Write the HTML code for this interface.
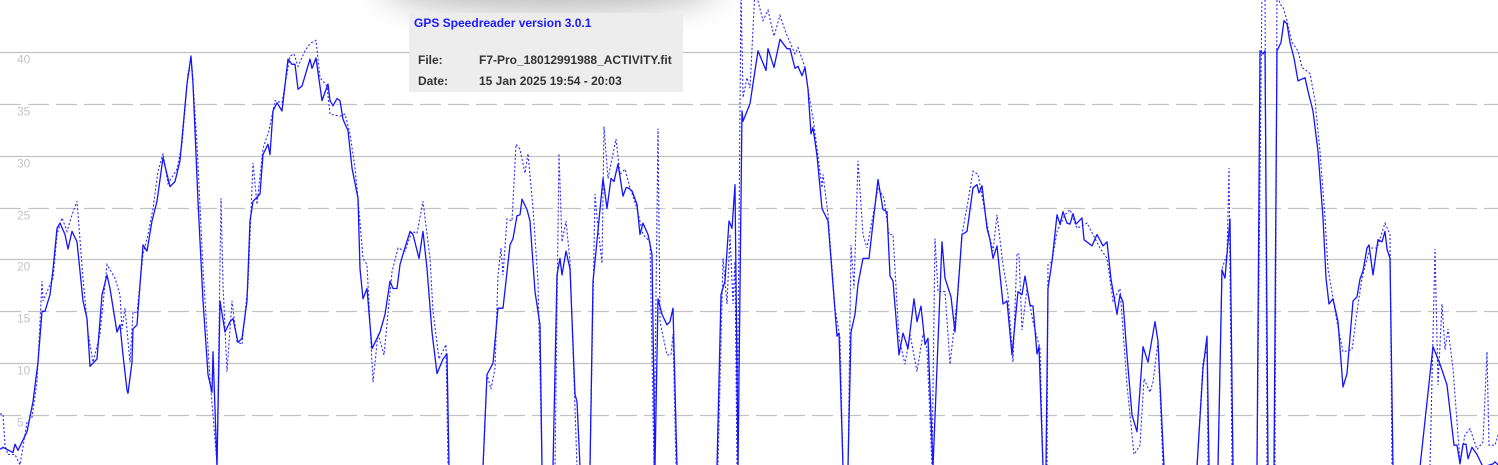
<!DOCTYPE html>
<html><head><meta charset="utf-8">
<style>
html,body{margin:0;padding:0;background:#fff;}
#wrap{position:relative;width:1498px;height:465px;overflow:hidden;background:#fff;font-family:"Liberation Sans",Arial,sans-serif;}
#shadow{position:absolute;left:380px;top:-40px;width:340px;height:52px;background:#bdbdbd;filter:blur(16px);border-radius:50%;}
#info{position:absolute;left:409px;top:13px;width:274px;height:79px;background:#ededed;font-size:12px;font-weight:bold;color:#333;}
#info .t{position:absolute;left:5px;top:3px;color:#1a1aff;}
#info .l{position:absolute;left:9px;}
#info .v{position:absolute;left:70px;}
</style></head>
<body>
<div id="wrap">
<svg id="chart" width="1498" height="465" style="position:absolute;left:0;top:0"></svg>
<div id="shadow"></div>
<div id="info">
  <div class="t">GPS Speedreader version 3.0.1</div>
  <div class="l" style="top:40px">File:</div>
  <div class="v" style="top:40px">F7-Pro_18012991988_ACTIVITY.fit</div>
  <div class="l" style="top:61px">Date:</div>
  <div class="v" style="top:61px">15 Jan 2025 19:54 - 20:03</div>
</div>
</div>
<script>
const yTicks=[5,10,15,20,25,30,35,40];
const tickLabels=["5","10","15","20","25","30","35","40"];
const solidTimes=[0,1.5,3.5,6.5,7.5,9,13.5,16.5,19,21,22.5,25,26.5,28.5,30,32.5,34,36,38.5,41.5,43.5,45,48.5,51,53.5,55,58.5,60,61.5,63.5,64,66,66.5,68.5,71.5,73.5,76,78.5,81.5,85,87.5,90,93.5,95.5,96.5,99,101.5,104,106,106.5,108.5,110,112.5,115,116.5,119,121,123.5,125,126.5,130,131.5,134,135,136.5,138.5,141,144,146,147.5,149,151,155,156,158,161,164,165,166.5,168.5,170,171.5,174,176,179,180,181.5,183.5,186,190,192.5,195,196.5,198.5,200,201.5,205,206.5,209.5,211.5,213.5,216,218.5,221.5,223.5,224.5,241.5,243.5,246.5,249,251.5,255,256.5,258.5,260,261,263.5,265,267.5,270,271,276.5,278.5,280,281,283,285,287.5,288.5,290,295,296.5,297.5,301.5,303.5,305.5,307,309,311.5,313,314,316,318.5,320,321.5,324,326,327.5,329,331,333.5,335,336.5,338.5,358.5,360.5,362.5,364.5,366,367.5,369,371,371.5,375,377.5,379,383,384,387,390,393.5,395,397.5,399,401,402.5,404,405.5,406.5,408.5,411,414,418.5,419.5,421.5,424,425.5,427.5,429,431.5,434.5,439,441.5,443.5,445,446.5,449.5,451.5,454,457,458.5,460.5,462.5,464,466.5,471,472.5,475.5,477.5,481,483.5,486.5,488.5,489.5,491,493.5,495,496.5,498.5,501.5,503.5,506,509,511,512.5,515,516.5,518.5,519.5,521.5,523,524,526,528.5,530,531.5,533.5,535,536.5,538,541,542,546,548.5,551.5,553.5,555.5,558.5,560,561.5,563.5,566,568.5,571.5,574,577.5,579,582,598.5,601.5,603.5,604.5,609,611,612.5,615,616.5,628.5,630,631.5,632.5,634,637,638.5,640.5,642,643.5,645,647,649,652.5,654,656.5,659,661.5,663,664.5,666.5,669,671.5,673.5,676.5,678.5,680,681.5,683.5,684.5,686.5,689,691,692.5,693.5,695,696.5,710,716.5,720,723.5,727,728.5,730,731.5,733,734,736,738.5,741.5,746.5,747.5,749];
const solidSpeeds=[1.7,1.9,1.7,1.4,2.2,1.6,3.4,6.3,10.1,15,15,16.6,19,23,23.5,22.4,21,22.7,21.7,16,14.3,9.7,10.4,16.6,18.5,17.2,13,13.7,10.8,7.4,7.1,10.1,13.3,13.7,21.4,20.8,23.7,25.6,29.8,27,27.5,29.5,36.9,39.6,36.9,25.6,16,8.9,7.2,11.1,0,16,13,14,14.3,12,12.4,16,23.7,25.6,26.3,30.1,31.1,30.1,34.3,35.1,34.3,39.3,38.8,38.8,36.4,36.7,39.3,38.4,39.4,35.3,36.9,35.3,34.8,35.5,35.3,33.5,32.4,28.8,25.9,19.1,16.2,17.2,11.4,13,14.7,17.9,17.2,17.2,19.5,20.5,22.7,22.4,20.1,22.7,19.1,13,9,10.4,10.9,0,0,8.9,10,15.3,15.3,21.4,22,24.2,24.3,25.8,24.8,23.7,16.9,13.7,0,0,18.5,20.1,18.5,20.8,19.1,7,6.3,0,0,17.9,19.8,27.8,24.9,27.8,27.5,29.2,26.1,26.9,26.9,26.6,25.3,22.4,23.5,22.4,20.5,0,16.2,14.7,13.7,14,15.3,0,0,16.6,17.9,23.7,23,27.2,0,34.3,33.3,35,38.2,40.1,38.2,40.3,38.5,41.2,40.3,40.3,38.4,38.6,37.7,38.5,36.4,32.1,32.7,30,24.9,23.7,12.6,12.9,0,0,13,14.7,17.6,20.1,20.1,27.7,24.8,24.6,18.4,17.9,10.8,12.9,11.4,16.2,14,15.5,11.8,12.4,0,21.7,18.2,16.4,13,22.4,22.7,26.9,27.2,26.4,27.1,23,21.9,20.1,21.3,15.7,16,10.8,16.9,16.6,18.4,15.6,15.5,10.9,11.6,0,0,17.2,19.8,24.3,23.4,24.6,23.5,23.4,24.4,23.4,24,21.9,21.3,22.4,21.3,21.7,18.1,14.7,16.6,15.9,10.8,5,3.4,11.6,10.1,14,12.1,0,0,9.5,12.6,0,0,19,18.2,23.9,0,0,40.1,39.8,40.1,0,0,40.1,40.9,43,42.7,40.9,39.4,37.2,37.5,36.2,34.3,30.4,24,18.2,15.7,16.2,14,7.7,9,16,16.4,18.1,18.9,21.1,21.4,18.5,21.9,21.7,22.7,21,20.1,0,0,11.6,9.9,7.9,2.1,2.1,0.3,2.2,2.2,0.8,1.9,1.2,0,0.3,0.5,0.2];
const dottedTimes=[0,1.5,2.5,4,7.5,10,13.5,16,18.5,21,21.5,26.5,28.5,31,33.5,36,38.5,41.5,44,46.5,50,53.5,57.5,60,61,62.5,65,66.5,68.5,71.5,74,76.5,79,81.5,84,88.5,91,94,96,98.5,101.5,105,108.5,110.5,111.5,113.5,116,118.5,121,124,126.5,128.5,131.5,134.5,137.5,141,145,147,149,152.5,155,158,160,163.5,165,170,172.5,175,177.5,179,181.5,183.5,186.5,189,192,196,199,202.5,206,208.5,211.5,215,216.5,219.5,223,224,241.5,243.5,245.5,247.5,249,250.5,251.5,253.5,256,258,260,262.5,264,266.5,269,271,277.5,279.5,281,283,285,288.5,295,297.5,298.5,301,302,304,308,310,312.5,315,318.5,321.5,325,327,329,330,333.5,335.5,336.5,338,359,361,361.5,363.5,365,366.5,367.5,368.5,370.5,371.5,373.5,375,377.5,381.5,384,387,390,393,397.5,399,402.5,404,406.5,408.5,411,411.5,414,417.5,420,421.5,424,425.5,427,429,431.5,433.5,439,442,444.5,446.5,449.5,452.5,455,458.5,461.5,463.5,466,467.5,469,472.5,475,478.5,481,484,486.5,489,491.5,494.5,496.5,498.5,501.5,504,506.5,508.5,509.5,511,513.5,516.5,520,521.5,523.5,524,526,528.5,532.5,535,538.5,543.5,546.5,550,553.5,556.5,560,563.5,567,570,572,575,576.5,579,581.5,598.5,601.5,603.5,604,609,611,613.5,614.5,616,628.5,631,632.5,633.5,637.5,638.5,640,641.5,643.5,646,649,651,655,657.5,660,662.5,664,668.5,671.5,676,678.5,681,685,688.5,692.5,695,696,715,717.5,719,721,722.5,724,726.5,730,732.5,735,738.5,741.5,743.5,744.5,747.5,749];
const dottedSpeeds=[5.1,5.1,2.1,1.2,1.2,0.2,4.3,4.8,8.2,17.9,16,18.2,22.4,24,22.7,24.3,25.6,18.2,13,10.1,12.8,19.5,18.2,16.6,13.3,15.3,10.1,15,14.8,20.5,22.4,24.9,28.5,30.2,27.3,28.7,31.1,38,38.5,31.1,19.1,8.5,0.3,25.9,17.6,9.2,16,12.1,11.8,17.6,29.3,25.3,30.7,32.4,35.3,35.1,39.6,39.8,38.6,40.1,40.8,41.1,37.5,36.7,34,33.8,34,32.1,28.8,25.9,20.1,19.5,8.2,12.8,10.8,18.8,21.1,20.8,22.7,22.5,25.6,20.1,15,10.4,11.8,0,0,8.9,7.5,9.5,18.5,21.1,18.5,23.9,23.7,31.1,30.6,28.3,30.2,24.9,17.9,0,0,30.2,21.7,23.7,19.8,0,0,26.3,24,19.6,32.8,27.8,31.6,28.2,28.7,26.9,24.9,22.4,21.7,0,32.6,14,10.8,10.8,12.8,0,0,16,20.1,15.7,22.4,15.7,19.8,0,46,35.6,37.5,36.5,46,43,44,41.5,43.5,41.8,39.8,40.4,38.5,36.4,33.6,30.7,26.9,28.2,24.3,15.3,12.4,0,0,21.4,17.2,29.5,22.4,21.1,26.9,25.9,22.4,22.4,12.4,9.9,12.8,9.2,12.8,11.4,0,22,16.9,16.9,9.9,16,22.4,25.6,28.5,28.2,25.6,22.4,20.8,24.3,19.5,16.6,10.1,20.6,20.5,13.2,17.2,14,11.4,0,0,19.5,19.8,22.7,24.3,24.8,23,23.5,22.4,21.1,20.1,16,17.2,7.9,1.2,2.1,8.5,7.2,8.2,12.1,0,0,10.1,11.4,0,0,19.1,20.5,28.8,0,0,46,46,0,0,46,44.6,44.3,43,40.9,40.1,38.5,37.9,35.3,30.4,24,19.1,14,11.1,11.3,15,18.2,21.1,21.1,23.5,22.4,0,0,21,7.9,15.7,11.3,13.3,9.5,0.5,3.1,3.7,1.7,2.4,11.1,2.1,2.1,3.1];

const NS='http://www.w3.org/2000/svg';
const svg=document.getElementById('chart');
const W=1498,Y0=467,T_MAX=749,PX_PER_UNIT=10.38;
function xScale(t){return t*W/T_MAX;}
function yScale(v){return Y0-v*PX_PER_UNIT;}

const grid=document.createElementNS(NS,'g');


svg.appendChild(grid);
yTicks.forEach((v,i)=>{
  const y=Math.round(yScale(v))+0.5;
  const ln=document.createElementNS(NS,'line');
  ln.setAttribute('x1',0);ln.setAttribute('x2',W);
  ln.setAttribute('y1',y);ln.setAttribute('y2',y);
  ln.setAttribute('stroke','#c3c3c3');ln.setAttribute('stroke-width','1.3');
  if(v%10!==0) ln.setAttribute('stroke-dasharray','21 7');
  
  
  grid.appendChild(ln);
  const tx=document.createElementNS(NS,'text');
  tx.setAttribute('x',17);tx.setAttribute('y',y+11);
  tx.setAttribute('fill','#c4c4c4');tx.setAttribute('font-size','12');
  tx.setAttribute('font-family','Liberation Sans, Arial, sans-serif');
  tx.textContent=tickLabels[i];
  
  
  grid.appendChild(tx);
});

function makePath(ts,vs){
  let d='';
  for(let i=0;i<ts.length;i++){d+=(i?'L':'M')+xScale(ts[i]).toFixed(1)+' '+yScale(vs[i]).toFixed(1);}
  return d;
}
const dotted=document.createElementNS(NS,'path');
dotted.setAttribute('d',makePath(dottedTimes,dottedSpeeds));
dotted.setAttribute('fill','none');dotted.setAttribute('stroke','#2a2aff');
dotted.setAttribute('stroke-width','1.1');dotted.setAttribute('stroke-dasharray','2 2');


svg.appendChild(dotted);
const solid=document.createElementNS(NS,'path');
solid.setAttribute('d',makePath(solidTimes,solidSpeeds));
solid.setAttribute('fill','none');solid.setAttribute('stroke','#1414ff');
solid.setAttribute('stroke-width','1.3');solid.setAttribute('stroke-linejoin','round');


svg.appendChild(solid);
</script>
</body></html>
